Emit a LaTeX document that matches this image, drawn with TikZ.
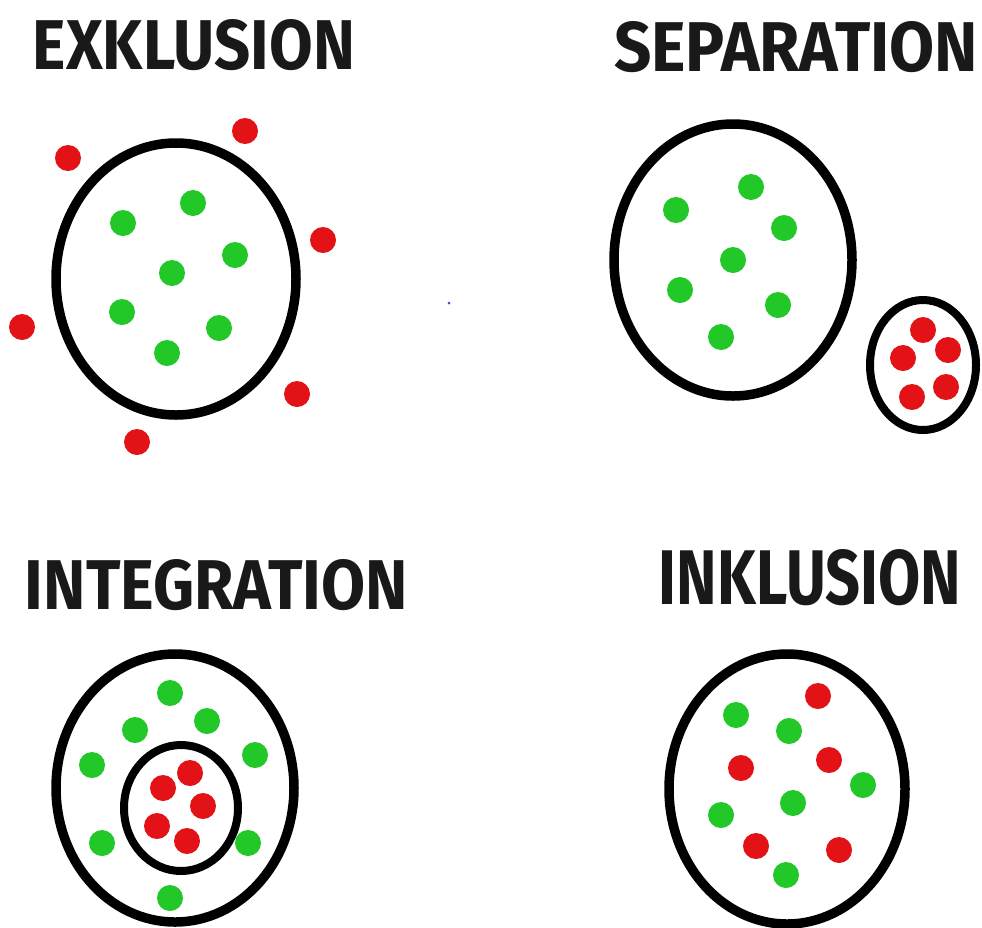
\documentclass[tikz,border=0pt]{standalone}
\usepackage{fontspec}
\usepackage{graphicx}
\newfontfamily\handfont{Fira Sans}
\definecolor{dotgreen}{RGB}{34,200,40}
\definecolor{dotred}{RGB}{226,18,22}
\definecolor{speck}{RGB}{70,70,200}
\tikzset{
  ring/.style={draw=black, line width=9.5pt},
  thinring/.style={draw=black, line width=8pt},
  gdot/.style={circle, fill=dotgreen, inner sep=0pt, minimum size=26pt},
  rdot/.style={circle, fill=dotred, inner sep=0pt, minimum size=26pt},
  title/.style={inner sep=0pt, text=black!90, font=\handfont\bfseries}
}
\begin{document}
\begin{tikzpicture}[x=1pt,y=-1pt]
\useasboundingbox (0,0) rectangle (982,927);
\fill[white] (0,0) rectangle (982,927);

% ---------- EXKLUSION ----------
\node[title] (t1) at (194,45) {\resizebox{322pt}{50pt}{EXKLUSION}};
\draw[ring] (176,279) ellipse [x radius=120pt, y radius=136pt];
\node[gdot] (e1) at (123,223) {};
\node[gdot] (e2) at (193,203) {};
\node[gdot] (e3) at (235,255) {};
\node[gdot] (e4) at (172,273) {};
\node[gdot] (e5) at (122,312) {};
\node[gdot] (e6) at (219,328) {};
\node[gdot] (e7) at (167,353) {};
\node[rdot] (x1) at (68,158) {};
\node[rdot] (x2) at (245,131) {};
\node[rdot] (x3) at (323,240) {};
\node[rdot] (x4) at (22,327) {};
\node[rdot] (x5) at (297,394) {};
\node[rdot] (x6) at (137,442) {};
\fill[speck] (449,303) circle (1.5pt);

% ---------- SEPARATION ----------
\node[title] (t2) at (796,47) {\resizebox{364pt}{50pt}{SEPARATION}};
\draw[ring] (733,260) ellipse [x radius=119pt, y radius=136pt];
\node[gdot] (s1) at (751,187) {};
\node[gdot] (s2) at (676,210) {};
\node[gdot] (s3) at (784,228) {};
\node[gdot] (s4) at (733,260) {};
\node[gdot] (s5) at (680,290) {};
\node[gdot] (s6) at (778,305) {};
\node[gdot] (s7) at (721,337) {};
\draw[thinring] (923,365) ellipse [x radius=53pt, y radius=65pt];
\node[rdot] (r1) at (923,330) {};
\node[rdot] (r2) at (948,350) {};
\node[rdot] (r3) at (903,358) {};
\node[rdot] (r4) at (946,387) {};
\node[rdot] (r5) at (912,397) {};

% ---------- INTEGRATION ----------
\node[title] (t3) at (216.5,585) {\resizebox{383pt}{50pt}{INTEGRATION}};
\draw[ring] (175,788) ellipse [x radius=119pt, y radius=134pt];
\draw[thinring] (181,808) ellipse [x radius=57pt, y radius=63pt];
\node[gdot] (i1) at (170,693) {};
\node[gdot] (i2) at (135,730) {};
\node[gdot] (i3) at (207,721) {};
\node[gdot] (i4) at (255,755) {};
\node[gdot] (i5) at (92,765) {};
\node[gdot] (i6) at (102,843) {};
\node[gdot] (i7) at (248,843) {};
\node[gdot] (i8) at (170,898) {};
\node[rdot] (j1) at (190,773) {};
\node[rdot] (j2) at (163,788) {};
\node[rdot] (j3) at (203,806) {};
\node[rdot] (j4) at (157,826) {};
\node[rdot] (j5) at (187,841) {};

% ---------- INKLUSION ----------
\node[title] (t4) at (810,577.5) {\resizebox{302pt}{55pt}{INKLUSION}};
\draw[ring] (787,789) ellipse [x radius=118pt, y radius=135pt];
\node[rdot] (k1) at (818,696) {};
\node[rdot] (k2) at (741,768) {};
\node[rdot] (k3) at (829,760) {};
\node[rdot] (k4) at (756,846) {};
\node[rdot] (k5) at (839,850) {};
\node[gdot] (g1) at (736,715) {};
\node[gdot] (g2) at (789,731) {};
\node[gdot] (g3) at (863,785) {};
\node[gdot] (g4) at (793,803) {};
\node[gdot] (g5) at (721,815) {};
\node[gdot] (g6) at (786,875) {};
\end{tikzpicture}
\end{document}
